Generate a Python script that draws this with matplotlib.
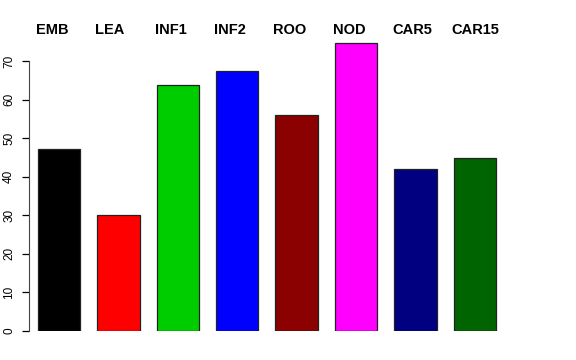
import matplotlib.pyplot as plt
from matplotlib.transforms import blended_transform_factory

# Données
labels = ["EMB", "LEA", "INF1", "INF2", "ROO", "NOD", "CAR5", "CAR15"]
values = [47.2, 30.0, 63.8, 67.4, 56.0, 74.7, 42.0, 44.8]
colors = ["black", "red", "#00CD00", "blue", "#8B0000", "magenta", "#000080", "#006400"]

plt.rcParams['font.family'] = ['Liberation Sans', 'DejaVu Sans']

fig = plt.figure(figsize=(5.76, 3.6), dpi=100)
# zone de tracé en pixels : gauche 29, droite 540, bas 331, haut 40
ax = fig.add_axes([29 / 576, (360 - 331) / 360, (540 - 29) / 576, (331 - 40) / 360])

width = 1.0
space = 0.4
lefts = [space + i * (width + space) for i in range(len(values))]
ax.bar(lefts, values, width=width, align='edge', color=colors,
       edgecolor='#222222', linewidth=0.9)

x0 = space - 9 / 42.4
x1 = space + (540 - 38) / 42.4
ax.set_xlim(x0, x1)
ax.set_ylim(0, (331 - 40) / (270 / 70))

for s in ['top', 'right', 'bottom']:
    ax.spines[s].set_visible(False)
ax.spines['left'].set_bounds(0, 70)
ax.spines['left'].set_color('#444444')
ax.set_xticks([])
ax.set_yticks(range(0, 71, 10))
ax.tick_params(axis='y', length=5, width=0.9, labelsize=8.5, pad=5)
for t in ax.get_yticklabels():
    t.set_rotation(90)
    t.set_va('center')

# Étiquettes en haut
trans = blended_transform_factory(ax.transData, fig.transFigure)
for l, lab in zip(lefts, labels):
    ax.text(l - 0.05, 1 - 30 / 360, lab, transform=trans, ha='left', va='center',
            fontsize=10.5, fontweight='bold')

fig.savefig("out.png", dpi=100)
